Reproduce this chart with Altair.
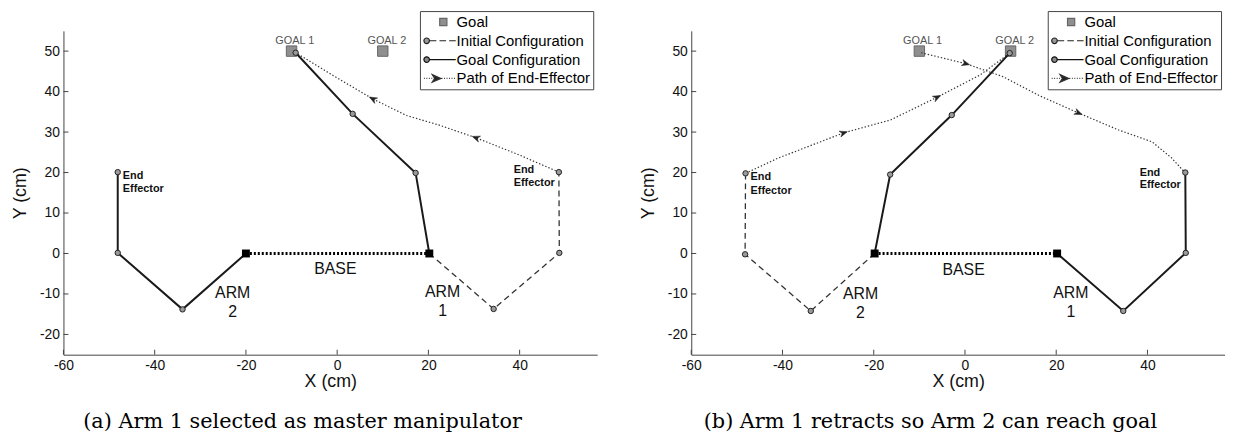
import altair as alt
import pandas as pd

# ---------------- data ----------------
X_TICKS = [-60, -40, -20, 0, 20, 40]
Y_TICKS = [-20, -10, 0, 10, 20, 30, 40, 50]
X_DOMAIN = [-60, 57]
Y_DOMAIN = [-25, 55]

LEGEND_LABELS = ["Goal", "Initial Configuration", "Goal Configuration", "Path of End-Effector"]

GOAL_X = [-10, 10]
GOAL_Y = [50, 50]
GOAL_TEXT = ["GOAL 1", "GOAL 2"]
GOAL_TEXT_X = [-9.3, 10.9]
GOAL_TEXT_Y = [52.6, 52.6]

# ---- panel (a) ----
A_BASE_X = [-20, 20.2]
A_BASE_Y = [0, 0]
A_ARM2_GOAL_X = [-20, -33.9, -48.1, -48.1]
A_ARM2_GOAL_Y = [0, -13.8, 0.15, 20.1]
A_ARM1_GOAL_X = [20.2, 17.2, 3.4, -9.1]
A_ARM1_GOAL_Y = [0, 19.9, 34.5, 49.6]
A_ARM1_INIT_X = [20.2, 34.3, 48.7, 48.6]
A_ARM1_INIT_Y = [0, -13.7, 0.15, 20.1]
A_PATH_X = [48.6, 39.8, 30.4, 22.4, 15.2, 7.8, -0.8, -9.1]
A_PATH_Y = [20.1, 24.4, 28.6, 31.7, 34.1, 38.2, 43.9, 49.6]
A_ARROW_X = [30.4, 7.8]
A_ARROW_Y = [28.6, 38.2]
A_ARROW_ANGLE = [200, 208]
A_EE_TEXT = ["End", "Effector", "End", "Effector"]
A_EE_X = [-47.0, -47.0, 38.7, 38.7]
A_EE_Y = [19.2, 16.0, 20.5, 17.3]
A_BIG_TEXT = ["BASE", "ARM", "2", "ARM", "1"]
A_BIG_X = [-0.4, -22.9, -22.9, 23.1, 23.1]
A_BIG_Y = [-3.8, -9.7, -14.4, -9.6, -14.2]

# ---- panel (b) ----
B_BASE_X = [-19.8, 20.2]
B_BASE_Y = [0, 0]
B_ARM1_GOAL_X = [20.2, 34.7, 48.4, 48.3]
B_ARM1_GOAL_Y = [0, -14.2, 0.15, 20.0]
B_ARM2_GOAL_X = [-19.8, -16.4, -2.9, 9.8]
B_ARM2_GOAL_Y = [0, 19.5, 34.2, 49.5]
B_ARM2_INIT_X = [-19.8, -33.8, -48.2, -48.1]
B_ARM2_INIT_Y = [0, -14.2, -0.2, 19.8]
B_PATH1_X = [-9.6, 0.2, 8.3, 16.3, 24.9, 33.7, 41.0, 45.3, 48.3]
B_PATH1_Y = [49.6, 46.9, 43.7, 39.0, 34.7, 30.5, 27.6, 23.6, 19.9]
B_PATH2_X = [-48.1, -41.1, -34.2, -26.6, -16.3, -6.1, 3.3, 9.8]
B_PATH2_Y = [19.8, 23.5, 26.5, 29.8, 33.0, 38.6, 44.1, 49.5]
B_ARROW_X = [0.2, 24.9, -26.6, -6.1]
B_ARROW_Y = [46.9, 34.7, 29.8, 38.6]
B_ARROW_ANGLE = [16, 24, 342, 333]
B_EE_TEXT = ["End", "Effector", "End", "Effector"]
B_EE_X = [-47.0, -47.0, 38.3, 38.3]
B_EE_Y = [18.8, 15.5, 20.0, 16.9]
B_BIG_TEXT = ["BASE", "ARM", "2", "ARM", "1"]
B_BIG_X = [-0.3, -22.9, -22.9, 23.2, 23.2]
B_BIG_Y = [-4.1, -10.0, -14.6, -9.7, -14.4]

CAPTIONS = ["(a) Arm 1 selected as master manipulator",
            "(b) Arm 1 retracts so Arm 2 can reach goal"]

# ---------------- styling ----------------
W, H = 539, 327
SANS = "Liberation Sans"
SERIF = "DejaVu Serif"


def dots(a, b, step=0.36, ln=0.13):
    s = ""
    p = a
    while p < b:
        s += "M%.2f,0H%.2f" % (p, min(p + ln, b))
        p += step
    return s

CIRC = "M-1,0A0.4,0.4 0 1,0 -0.2,0A0.4,0.4 0 1,0 -1,0"
LEGEND_SHAPES = [
    "M1.28,-0.52H2.32V0.52H1.28Z",
    CIRC + "M-0.2,0H0.8M1.25,0H2.2M2.65,0H3.6",
    CIRC + "M-0.2,0H3.6",
    dots(-1, 0.2) + "M0.2,-0.55L1.45,0L0.2,0.55L0.55,0Z" + dots(1.55, 3.6),
]
LEGEND_FILL = ["#8f8f8f", "#9a9a9a", "#8a8a8a", "#222222"]
LEGEND_STROKE = ["#666666", "#222222", "#111111", "#333333"]
ARROW_SHAPE = "M-1,-0.8L1,0L-1,0.8L-0.4,0Z"
HYPHEN = "replace(datum.label, '\u2212', '-')"

axis_x = alt.Axis(values=X_TICKS, ticks=False, grid=False, domainColor="#444",
                  labelFont=SANS, labelFontSize=14, labelColor="#111", labelPadding=4,
                  labelFlush=False, labelOverlap=False, labelExpr=HYPHEN,
                  titleFont=SANS, titleFontSize=18, titleFontWeight="normal",
                  titleColor="#111", titlePadding=0)
axis_y = alt.Axis(values=Y_TICKS, ticks=False, grid=False, domainColor="#444",
                  labelFont=SANS, labelFontSize=14, labelColor="#111", labelPadding=4,
                  labelFlush=False, labelOverlap=False, labelExpr=HYPHEN,
                  minExtent=24, maxExtent=24,
                  titleFont=SANS, titleFontSize=18, titleFontWeight="normal",
                  titleColor="#111", titlePadding=10)

xs = alt.Scale(domain=X_DOMAIN, nice=False, zero=False)
ys = alt.Scale(domain=Y_DOMAIN, nice=False, zero=False)


def X(f="x"):
    return alt.X(f + ":Q", scale=xs, axis=axis_x, title="X (cm)")


def Y(f="y"):
    return alt.Y(f + ":Q", scale=ys, axis=axis_y, title="Y (cm)")


def lines_df(series):
    rows = []
    for sid, (xv, yv) in enumerate(series):
        for i, (a, b) in enumerate(zip(xv, yv)):
            rows.append({"x": a, "y": b, "seg": sid, "o": i})
    return pd.DataFrame(rows)


def pts_df(xv, yv, **extra):
    d = {"x": xv, "y": yv}
    d.update(extra)
    return pd.DataFrame(d)


def panel(p, caption):
    goals = alt.Chart(pts_df(GOAL_X, GOAL_Y)).mark_square(
        size=110, filled=True, fill="#8f8f8f", stroke="#666", strokeWidth=1, opacity=1
    ).encode(x=X(), y=Y())

    goal_text = alt.Chart(pts_df(GOAL_TEXT_X, GOAL_TEXT_Y, t=GOAL_TEXT)).mark_text(
        font=SANS, fontSize=11, color="#555", baseline="middle"
    ).encode(x=X(), y=Y(), text="t:N")

    path = alt.Chart(lines_df(p["paths"])).mark_line(
        color="#333", strokeWidth=1.2, strokeDash=[1.4, 2.0]
    ).encode(x=X(), y=Y(), detail="seg:N", order="o:Q")

    arrows = alt.Chart(pts_df(p["arrow_x"], p["arrow_y"], a=p["arrow_a"])).mark_point(
        shape=ARROW_SHAPE, filled=True, size=60, fill="#222", stroke="#222",
        strokeWidth=0.5, opacity=1
    ).encode(x=X(), y=Y(), angle=alt.Angle("a:Q", scale=None))

    base_line = alt.Chart(pts_df(p["base_x"], p["base_y"])).mark_line(
        color="black", strokeWidth=3, strokeDash=[2, 2]
    ).encode(x=X(), y=Y())

    dashed = alt.Chart(lines_df(p["dashed"])).mark_line(
        color="#333", strokeWidth=1.3, strokeDash=[6, 4]
    ).encode(x=X(), y=Y(), detail="seg:N", order="o:Q")

    solid = alt.Chart(lines_df(p["solid"])).mark_line(
        color="#1a1a1a", strokeWidth=2
    ).encode(x=X(), y=Y(), detail="seg:N", order="o:Q")

    jx, jy = [], []
    for xv, yv in p["solid"] + p["dashed"]:
        jx += xv[1:]
        jy += yv[1:]
    joints = alt.Chart(pts_df(jx, jy)).mark_point(
        shape="circle", filled=True, size=30, fill="#9a9a9a", stroke="#222",
        strokeWidth=1, opacity=1
    ).encode(x=X(), y=Y())

    base_sq = alt.Chart(pts_df(p["base_x"], p["base_y"])).mark_square(
        size=64, color="black", opacity=1
    ).encode(x=X(), y=Y())

    ee_text = alt.Chart(pts_df(p["ee_x"], p["ee_y"], t=p["ee_t"])).mark_text(
        font=SANS, fontSize=11, fontWeight="bold", color="#111", align="left",
        baseline="middle"
    ).encode(x=X(), y=Y(), text="t:N")

    big_text = alt.Chart(pts_df(p["big_x"], p["big_y"], t=p["big_t"])).mark_text(
        font=SANS, fontSize=16, color="#111", align="center", baseline="middle"
    ).encode(x=X(), y=Y(), text="t:N")

    xt = alt.Chart(pd.DataFrame({"x": X_TICKS})).mark_rule(
        color="#444", strokeWidth=1
    ).encode(x=X(), y=alt.value(H), y2=alt.value(H - 5))
    yt = alt.Chart(pd.DataFrame({"y": Y_TICKS})).mark_rule(
        color="#444", strokeWidth=1
    ).encode(y=Y(), x=alt.value(0), x2=alt.value(5))

    legend = alt.Legend(
        title=None, orient="none", legendX=360, legendY=-20,
        fillColor="white", strokeColor="#444", padding=3, cornerRadius=0,
        labelFont=SANS, labelFontSize=15, labelColor="black", labelOffset=18,
        symbolSize=196, symbolStrokeWidth=1.2, symbolOpacity=1, rowPadding=3,
        labelLimit=0,
    )
    carrier = alt.Chart(pd.DataFrame({"kind": LEGEND_LABELS})).mark_point(
        filled=True, opacity=0
    ).encode(
        x=alt.value(0), y=alt.value(0),
        shape=alt.Shape("kind:N", scale=alt.Scale(domain=LEGEND_LABELS, range=LEGEND_SHAPES),
                        legend=legend),
        fill=alt.Fill("kind:N", scale=alt.Scale(domain=LEGEND_LABELS, range=LEGEND_FILL),
                      legend=legend),
        stroke=alt.Stroke("kind:N", scale=alt.Scale(domain=LEGEND_LABELS, range=LEGEND_STROKE),
                          legend=legend),
    )

    return alt.layer(
        goals, goal_text, path, arrows, base_line, dashed, solid, joints, base_sq,
        ee_text, big_text, xt, yt, carrier
    ).properties(
        width=W, height=H,
        title=alt.TitleParams(caption, orient="bottom", font=SERIF, fontSize=21,
                              fontWeight="normal", color="black", anchor="middle",
                              dx=-28, offset=21),
    )


pa = dict(
    base_x=A_BASE_X, base_y=A_BASE_Y,
    solid=[(A_ARM2_GOAL_X, A_ARM2_GOAL_Y), (A_ARM1_GOAL_X, A_ARM1_GOAL_Y)],
    dashed=[(A_ARM1_INIT_X, A_ARM1_INIT_Y)],
    paths=[(A_PATH_X, A_PATH_Y)],
    arrow_x=A_ARROW_X, arrow_y=A_ARROW_Y, arrow_a=A_ARROW_ANGLE,
    ee_x=A_EE_X, ee_y=A_EE_Y, ee_t=A_EE_TEXT,
    big_x=A_BIG_X, big_y=A_BIG_Y, big_t=A_BIG_TEXT,
)
pb = dict(
    base_x=B_BASE_X, base_y=B_BASE_Y,
    solid=[(B_ARM1_GOAL_X, B_ARM1_GOAL_Y), (B_ARM2_GOAL_X, B_ARM2_GOAL_Y)],
    dashed=[(B_ARM2_INIT_X, B_ARM2_INIT_Y)],
    paths=[(B_PATH1_X, B_PATH1_Y), (B_PATH2_X, B_PATH2_Y)],
    arrow_x=B_ARROW_X, arrow_y=B_ARROW_Y, arrow_a=B_ARROW_ANGLE,
    ee_x=B_EE_X, ee_y=B_EE_Y, ee_t=B_EE_TEXT,
    big_x=B_BIG_X, big_y=B_BIG_Y, big_t=B_BIG_TEXT,
)

chart = alt.hconcat(panel(pa, CAPTIONS[0]), panel(pb, CAPTIONS[1]), spacing=43).resolve_scale(
    shape="independent", fill="independent", stroke="independent"
).resolve_legend(
    shape="independent", fill="independent", stroke="independent"
).properties(
    padding={"left": 4, "top": 0, "right": 0, "bottom": 0}, background="white"
).configure_view(stroke=None)

chart.save("out.html", embed_options={"renderer": "svg", "actions": False})
